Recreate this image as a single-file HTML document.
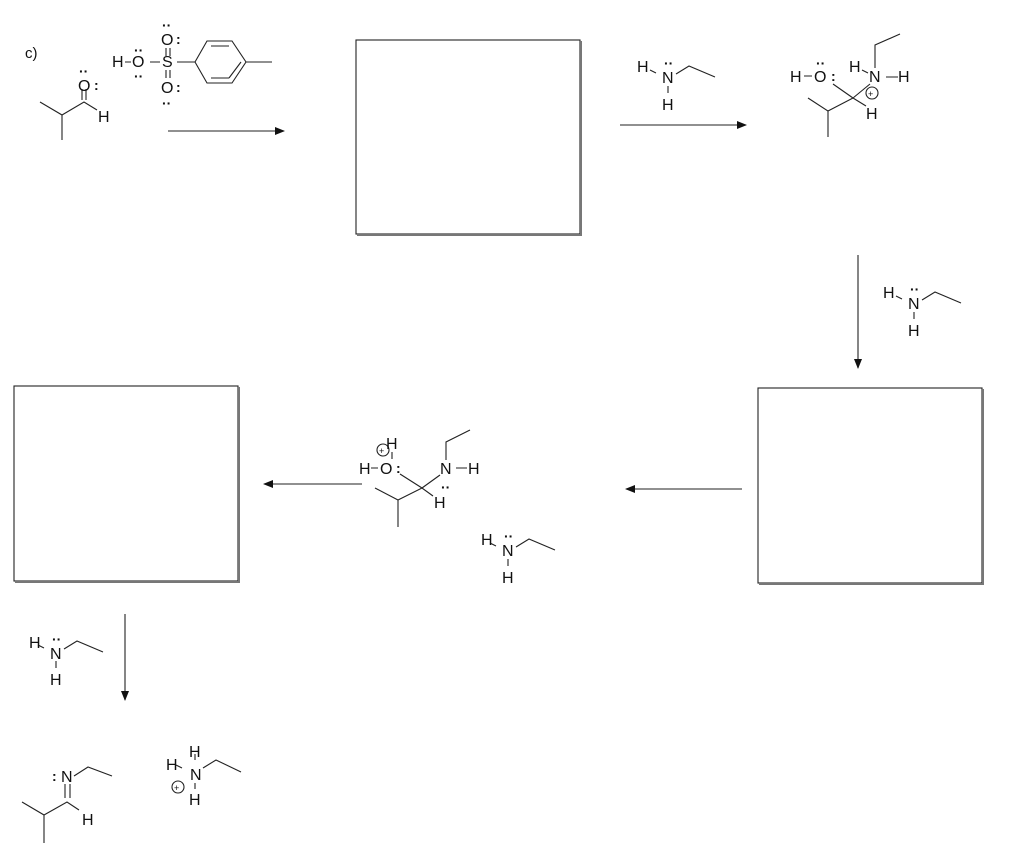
<!DOCTYPE html>
<html><head><meta charset="utf-8"><style>
html,body{margin:0;padding:0;background:#fff;}
svg{display:block;}
text{font-family:"Liberation Sans",sans-serif;font-size:16px;fill:#111;}
.s{font-size:14px;font-weight:bold}
</style></head><body>
<svg width="1022" height="861" viewBox="0 0 1022 861" xmlns="http://www.w3.org/2000/svg">
<defs>
<marker id="a" markerWidth="10" markerHeight="8" refX="9" refY="4" orient="auto" markerUnits="userSpaceOnUse"><path d="M0,0 L10,4 L0,8 z" fill="#111"/></marker>
</defs>
<g stroke="#222" stroke-width="1.1" fill="none">
<rect x="356" y="40" width="224" height="194"/>
<path d="M357,235 H581 V41" stroke="#777" stroke-width="2"/>
<rect x="758" y="388" width="224" height="195"/>
<path d="M759,584 H983 V389" stroke="#777" stroke-width="2"/>
<rect x="14" y="386" width="224" height="195"/>
<path d="M15,582 H239 V387" stroke="#777" stroke-width="2"/>
<line x1="168" y1="131" x2="284" y2="131" marker-end="url(#a)"/>
<line x1="620" y1="125" x2="746" y2="125" marker-end="url(#a)"/>
<line x1="858" y1="255" x2="858" y2="368" marker-end="url(#a)"/>
<line x1="742" y1="489" x2="626" y2="489" marker-end="url(#a)"/>
<line x1="362" y1="484" x2="264" y2="484" marker-end="url(#a)"/>
<line x1="125" y1="614" x2="125" y2="700" marker-end="url(#a)"/>

<path d="M40,102 L62,115 L62,140 M62,115 L84,102 L97,110"/>
<line x1="82" y1="100" x2="82" y2="89"/><line x1="86" y1="100" x2="86" y2="89"/>
<path d="M125,62 L131,62 M150,62 L160,62 M177,62 L195,62"/>
<line x1="166" y1="48" x2="166" y2="56"/><line x1="170" y1="48" x2="170" y2="56"/>
<line x1="166" y1="70" x2="166" y2="78"/><line x1="170" y1="70" x2="170" y2="78"/>
<path d="M195,62 L207,41 L232,41 L246,62 L232,83 L207,83 Z"/>
<path d="M211,46 L229,46 M241,62 L229,78 M211,78 L229,78"/>
<line x1="246" y1="62" x2="272" y2="62"/>

<path d="M650,70 L656,73 M668,86 L668,93 M676,74 L689,66 L715,77"/>
<path d="M804,76 L812,76 M828,137 L828,111 L808,98 M828,111 L853,98 L866,106 M853,98 L833,84 M853,98 L870,84 M886,77 L898,77 M862,70 L868,73 M875,68 L875,45 L900,34"/>
<circle cx="872" cy="93" r="6"/>
<path d="M896,296 L902,299 M914,312 L914,319 M922,300 L935,292 L961,303"/>

<!-- intermediate 2 -->
<path d="M371,468 L378,468 M392,452 L392,459 M375,488 L398,500 L422,488 L433,496 M398,500 L398,527 M422,488 L400,474 M422,488 L440,475 M456,468 L467,468 M446,460 L446,442 L470,430"/>
<circle cx="383" cy="450" r="6"/>
<path d="M490,543 L496,546 M508,559 L508,566 M516,547 L529,539 L555,550"/>
<path d="M38,645 L44,648 M56,661 L56,668 M64,649 L77,641 L103,652"/>

<path d="M22,802 L44,815 L44,843 M44,815 L67,802 L79,810 M74,776 L88,767 L112,776"/>
<line x1="65" y1="798" x2="65" y2="784"/><line x1="70" y1="798" x2="70" y2="784"/>
<path d="M176,765 L182,768 M195,760 L195,754 M195,783 L195,789 M203,768 L216,760 L241,772"/>
<circle cx="178" cy="787" r="6"/>
</g>

<g>
<text x="25" y="58" style="font-size:15px">c)</text>
<text x="78" y="91">O</text><text x="79" y="76" class="s">··</text><text x="94" y="90" class="s">:</text>
<text x="98" y="122">H</text>
<text x="112" y="67">H</text>
<text x="132" y="67">O</text><text x="134" y="55" class="s">··</text><text x="134" y="81" class="s">··</text>
<text x="162" y="67">S</text>
<text x="161" y="45">O</text><text x="162" y="30" class="s">··</text><text x="176" y="44" class="s">:</text>
<text x="161" y="93">O</text><text x="162" y="108" class="s">··</text><text x="176" y="92" class="s">:</text>

<text x="637" y="72">H</text><text x="662" y="83">N</text><text x="664" y="68" class="s">··</text><text x="662" y="110">H</text>
<text x="790" y="82">H</text><text x="814" y="82">O</text><text x="816" y="68" class="s">··</text><text x="831" y="81" class="s">:</text>
<text x="849" y="72">H</text><text x="869" y="82">N</text><text x="898" y="82">H</text>
<text x="868" y="97" style="font-size:9px">+</text>
<text x="866" y="119">H</text>
<text x="883" y="298">H</text><text x="908" y="309">N</text><text x="910" y="294" class="s">··</text><text x="908" y="336">H</text>

<text x="386" y="449">H</text>
<text x="379" y="454" style="font-size:9px">+</text>
<text x="359" y="474">H</text><text x="380" y="474">O</text><text x="396" y="473" class="s">:</text>
<text x="440" y="474">N</text><text x="468" y="474">H</text><text x="441" y="492" class="s">··</text>
<text x="434" y="508">H</text>
<text x="481" y="545">H</text><text x="502" y="556">N</text><text x="504" y="541" class="s">··</text><text x="502" y="583">H</text>
<text x="29" y="648">H</text><text x="50" y="659">N</text><text x="52" y="644" class="s">··</text><text x="50" y="685">H</text>

<text x="61" y="782">N</text><text x="52" y="781" class="s">:</text>
<text x="82" y="825">H</text>
<text x="189" y="757">H</text><text x="166" y="770">H</text><text x="190" y="780">N</text><text x="189" y="805">H</text>
<text x="174" y="791" style="font-size:9px">+</text>
</g>
</svg>
</body></html>
